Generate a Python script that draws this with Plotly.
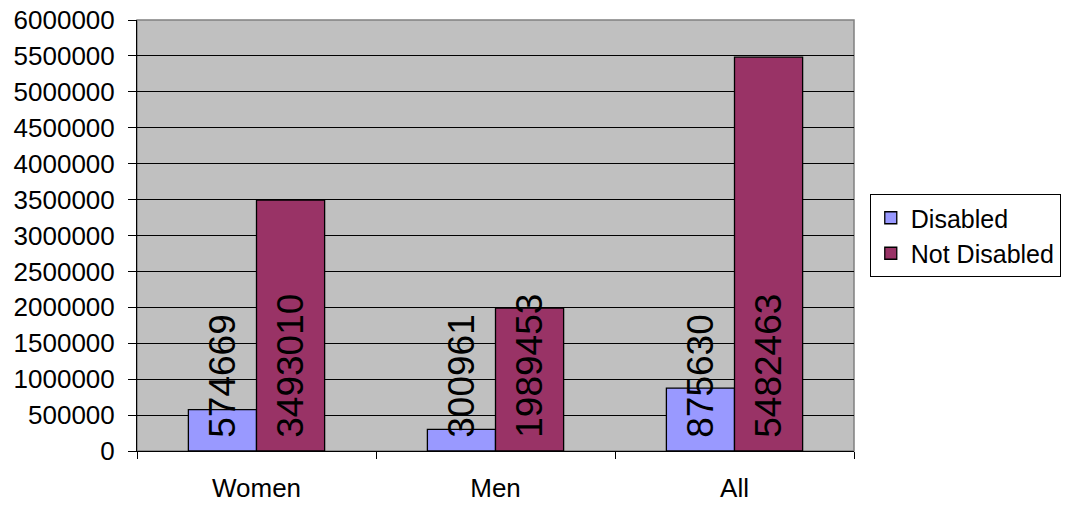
import plotly.graph_objects as go

categories = ["Women", "Men", "All"]
disabled = [574669, 300961, 875630]
not_disabled = [3493010, 1989453, 5482463]

FONT = "Liberation Sans, Arial, sans-serif"

fig = go.Figure()

def add_series(name, values, color):
    fig.add_trace(go.Bar(
        name=name,
        x=categories,
        y=values,
        # a leading no-break space lifts the value off the bar base
        texttemplate="\u00a0%{y:d}",
        textposition="inside",
        insidetextanchor="start",
        textangle=-90,
        constraintext="none",
        cliponaxis=False,
        textfont=dict(family=FONT, size=37, color="black"),
        marker=dict(color=color, line=dict(color="black", width=1.3)),
    ))

add_series("Disabled", disabled, "#9999FF")
add_series("Not Disabled", not_disabled, "#993366")

fig.update_layout(
    width=1069,
    height=514,
    barmode="group",
    bargap=0.43,
    bargroupgap=0,
    paper_bgcolor="white",
    plot_bgcolor="#C0C0C0",
    margin=dict(l=137, r=215, t=20, b=63, pad=0, autoexpand=False),
    font=dict(family=FONT, size=26, color="black"),
    legend=dict(
        x=1.022, xanchor="left", xref="paper",
        y=0.5, yanchor="middle",
        bgcolor="white",
        bordercolor="black",
        borderwidth=1,
        font=dict(family=FONT, size=25, color="black"),
        itemwidth=30,
        tracegroupgap=0,
    ),
    shapes=[dict(
        type="rect", xref="paper", yref="paper",
        x0=0, x1=1, y0=0, y1=1,
        line=dict(color="#808080", width=1.5),
        layer="below",
    )],
)

fig.update_xaxes(
    type="category",
    automargin=False,
    showgrid=False,
    showline=True,
    linecolor="black",
    linewidth=1,
    ticks="outside",
    tickson="boundaries",
    ticklen=7,
    tickcolor="black",
    ticklabelstandoff=14,
    tickfont=dict(family=FONT, size=26, color="black"),
)

fig.update_yaxes(
    range=[0, 6000000],
    dtick=500000,
    tick0=0,
    tickformat="d",
    automargin=False,
    showgrid=True,
    gridcolor="black",
    gridwidth=1,
    zeroline=False,
    showline=True,
    linecolor="black",
    linewidth=1,
    ticks="outside",
    ticklen=8,
    tickcolor="black",
    ticklabelstandoff=8,
    tickfont=dict(family=FONT, size=26, color="black"),
)

fig.write_html("out.html")
